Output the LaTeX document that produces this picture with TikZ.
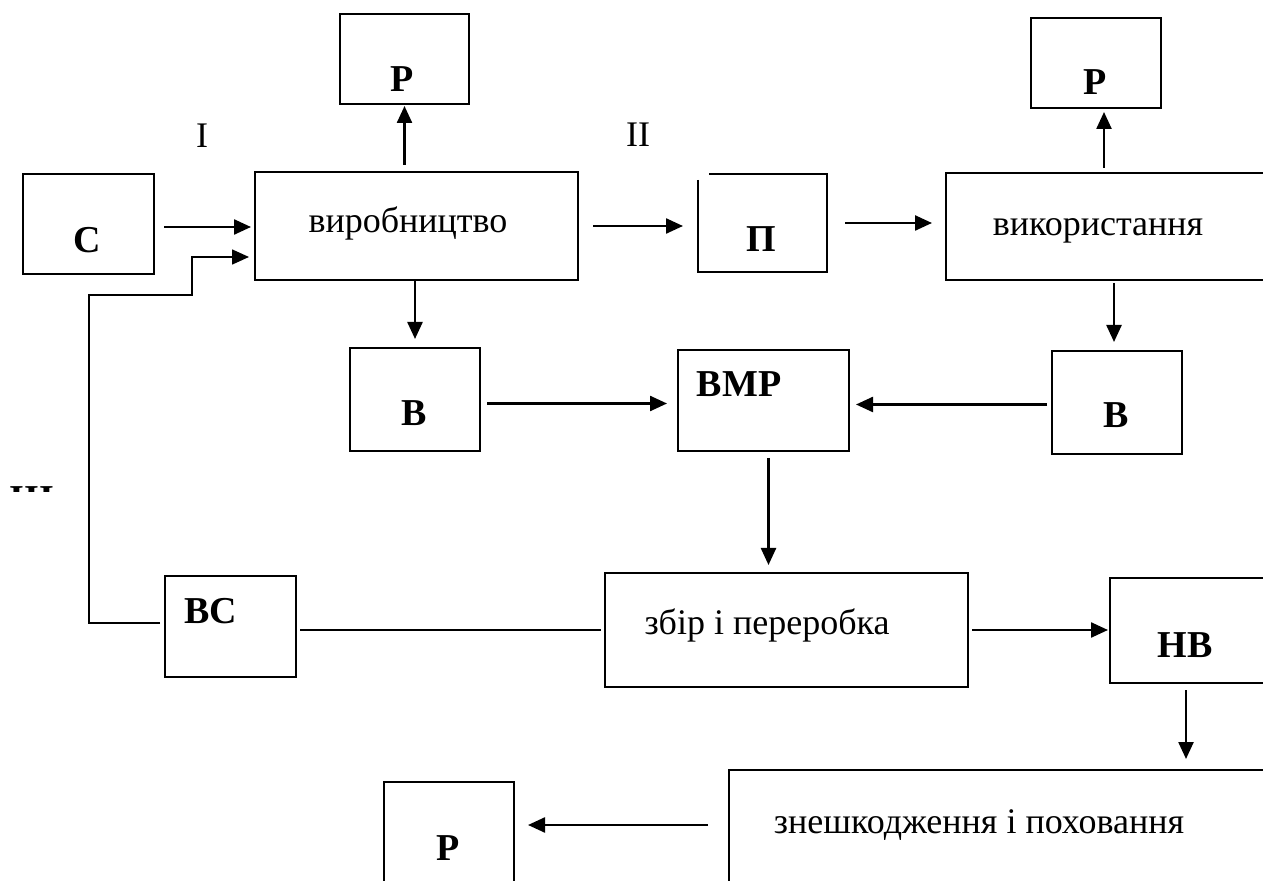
\documentclass[tikz,border=0pt]{standalone}
\usepackage{fontspec}
\setmainfont{Liberation Serif}
\usetikzlibrary{arrows.meta}
\tikzset{
  box/.style 2 args={draw, line width=1pt, inner sep=0pt, outer sep=0pt,
    minimum width=#1, minimum height=#2},
  lbl/.style={anchor=base, inner sep=0pt, font=\fontsize{19}{22}\selectfont\bfseries},
  txt/.style={anchor=base, inner sep=0pt, font=\fontsize{18}{21}\selectfont},
  arr/.style={-{Triangle[length=8.5pt,width=7.5pt]}, line width=1.2pt},
}
\begin{document}
\begin{tikzpicture}[x=0.5pt, y=-0.5pt]
    \useasboundingbox (0,0) rectangle (1263,881);
    \clip (0,0) rectangle (1263,881);
    % boxes
    \node[box={64.5pt}{45pt}] (Ptop1) at (404.5,59) {};
    \node[box={65pt}{45pt}] (Ptop2) at (1096,63) {};
    \node[box={65.5pt}{50pt}] (C) at (88.5,224) {};
    \node[box={161.5pt}{54pt}] (virob) at (416.5,226) {};
    \node[box={64.5pt}{49pt}, draw=none] (Pi) at (762.5,223) {};
    \node[box={160pt}{53.5pt}] (vykor) at (1106,226.5) {};
    \node[box={65pt}{51.5pt}] (Bl) at (415,399.5) {};
    \node[box={85.5pt}{50.5pt}] (BMP) at (763.5,400.5) {};
    \node[box={65pt}{51.5pt}] (Br) at (1117,402.5) {};
    \node[box={65.5pt}{50.5pt}] (BC) at (230.5,626.5) {};
    \node[box={181.5pt}{57pt}] (zbir) at (786.5,630) {};
    \node[box={78pt}{52.5pt}] (HB) at (1188,630.5) {};
    \node[box={268.5pt}{62.5pt}] (znesh) at (997.5,832.5) {};
    \node[box={65pt}{56.5pt}] (Pbot) at (449,838.5) {};
    % the P box has an open top left corner
    \draw[line width=1pt] ([yshift=-3pt]Pi.north west) -- (Pi.south west)
        -- (Pi.south east) -- (Pi.north east) -- ([xshift=5.5pt]Pi.north west);
    % labels
    \node[lbl] (tPtop1) at (402,92) {Р};
    \node[lbl] (tPtop2) at (1095,95) {Р};
    \node[lbl] (tC) at (87,253) {С};
    \node[txt] (tvirob) at (408,233) {виробництво};
    \node[lbl] (tPi) at (761,252) {П};
    \node[txt] (tvykor) at (1098,236) {використання};
    \node[lbl] (tBl) at (414,426) {В};
    \node[lbl] (tBMP) at (739,397) {ВМР};
    \node[lbl] (tBr) at (1116,428) {В};
    \node[lbl] (tBC) at (211,623) {ВС};
    \node[txt] (tzbir) at (767,634) {збір і переробка};
    \node[lbl] (tHB) at (1185,657) {НВ};
    \node[txt] (tznesh) at (979,833) {знешкодження і поховання};
    \node[lbl] (tPbot) at (448,860) {Р};
    % stage numbers
    \node[txt] (st1) at (202,148) {I};
    \node[txt] (st2) at (638,147) {II};
    \begin{scope}
        \clip (0,470) rectangle (70,492);
        \node[lbl] (st3) at (32,512) {III};
    \end{scope}
    % main flow
    \draw[arr, shorten <=5pt, shorten >=2pt] ([yshift=-1.5pt]C.east) -- ([yshift=-1.5pt]C.east -| virob.west);
    \draw[arr, shorten <=3.5pt, shorten >=1pt] (virob.north -| Ptop1.south) -- (Ptop1.south);
    \draw[arr, shorten >=4.5pt] (Bl.north |- virob.south) -- (Bl.north);
    \draw[arr, shorten <=7.5pt, shorten >=7.5pt] (virob.east) -- (virob.east -| Pi.west);
    \draw[arr, shorten <=9pt, shorten >=7pt] (Pi.east) -- (Pi.east -| vykor.west);
    \draw[arr, shorten <=2.5pt, shorten >=2pt] ([xshift=4pt]Ptop2.south |- vykor.north) -- ([xshift=4pt]Ptop2.south);
    \draw[arr, shorten <=1.5pt, shorten >=4.5pt] ([xshift=-1.5pt]Br.north |- vykor.south) -- ([xshift=-1.5pt]Br.north);
    \draw[arr, shorten <=3.5pt, shorten >=5.5pt] ([yshift=-2pt]Bl.east) -- ([yshift=-2pt]Bl.east -| BMP.west);
    \draw[arr, shorten <=2.5pt, shorten >=3.5pt] ([yshift=-1pt]Br.west) -- ([yshift=-1pt]Br.west -| BMP.east);
    \draw[arr, shorten <=3.5pt, shorten >=4pt] ([xshift=2.5pt]BMP.south) -- ([xshift=2.5pt]BMP.south |- zbir.north);
    \draw[arr, shorten <=2pt, shorten >=1pt] (zbir.east) -- (zbir.east -| HB.west);
    \draw[arr, shorten <=3.5pt, shorten >=5.5pt] ([xshift=-1pt]HB.south) -- ([xshift=-1pt]HB.south |- znesh.north);
    \draw[arr, shorten <=10.5pt, shorten >=7pt] ([yshift=3.75pt]znesh.west) -- ([yshift=3.75pt]znesh.west -| Pbot.east);
    % secondary raw material back to production
    \draw[line width=1pt, shorten <=2pt, shorten >=2pt] ([yshift=-1.75pt]BC.east) -- ([yshift=-1.75pt]BC.east -| zbir.west);
    \coordinate (fb1) at (89,623);
    \coordinate (fb2) at (192,295);
    \coordinate (fbin) at (255,257);
    \draw[arr, line width=0.8pt, shorten <=2.5pt, shorten >=3pt] (BC.west |- fb1) -- (fb1) |- (fb2) |- (fbin);
\end{tikzpicture}
\end{document}
